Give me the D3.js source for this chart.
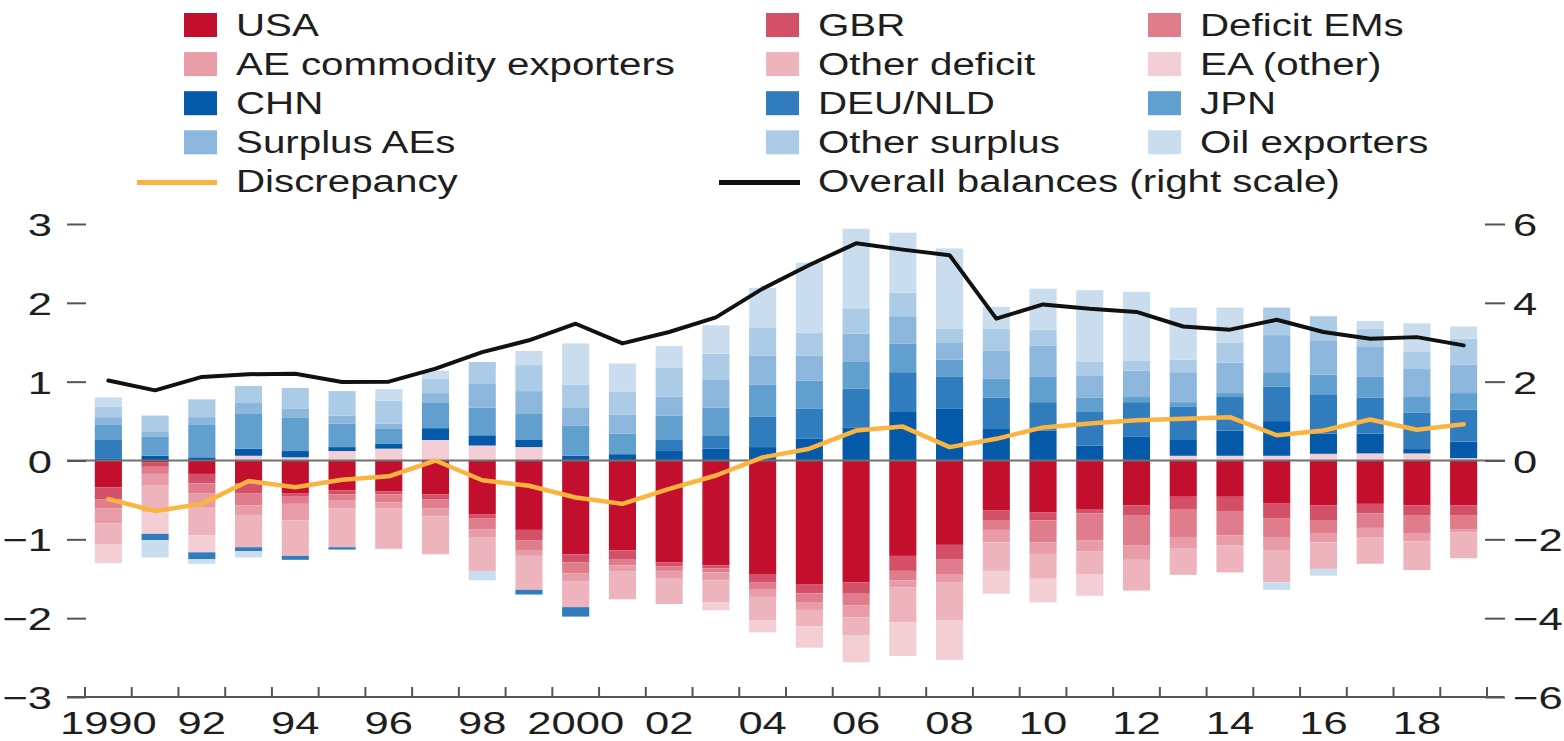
<!DOCTYPE html>
<html>
<head>
<meta charset="utf-8">
<script src="https://cdn.jsdelivr.net/npm/d3@7"></script>
<style>
  html, body { margin: 0; padding: 0; background: #fff; }
  svg { display: block; }
  text { font-family: "Liberation Sans", Arial, Helvetica, sans-serif; fill: #1e1e1e; }
</style>
</head>
<body>
<svg id="chart" width="1564" height="741"></svg>
<script>
// ---------- DATA ----------
const years = d3.range(1990, 2020);
const xTickLabels = ["1990","92","94","96","98","2000","02","04","06","08","10","12","14","16","18"];
const xTickYears = [1990,1992,1994,1996,1998,2000,2002,2004,2006,2008,2010,2012,2014,2016,2018];
const leftTicks = [-3,-2,-1,0,1,2,3];
const rightTicks = [-6,-4,-2,0,2,4,6];

const seriesNames = ["USA","GBR","Deficit EMs","AE commodity exporters","Other deficit","EA (other)",
                     "CHN","DEU/NLD","JPN","Surplus AEs","Other surplus","Oil exporters"];
const seriesColors = ["#c30f2e","#d44f68","#df7d8d","#e79ca8","#edb4be","#f3ced5",
                      "#045aa8","#307cbd","#619fcf","#8cb6db","#abcbe6","#c9ddee"];

const USA = [-0.34,-0.02,-0.17,-0.29,-0.42,-0.38,-0.39,-0.43,-0.68,-0.88,-1.19,-1.14,-1.29,-1.33,-1.44,-1.575,-1.545,-1.21,-1.07,-0.63,-0.655,-0.615,-0.57,-0.46,-0.46,-0.54,-0.57,-0.55,-0.57,-0.57];
const GBR = [-0.15,-0.06,-0.12,-0.13,-0.03,-0.05,-0.04,-0.06,-0.05,-0.13,-0.10,-0.11,-0.05,-0.04,-0.11,-0.11,-0.145,-0.19,-0.18,-0.125,-0.105,-0.055,-0.13,-0.155,-0.18,-0.19,-0.185,-0.12,-0.13,-0.13];
const deficitEMs = [-0.12,-0.09,-0.13,-0.15,-0.10,-0.08,-0.10,-0.12,-0.14,-0.125,-0.14,-0.08,-0.06,-0.05,-0.08,-0.11,-0.15,-0.12,-0.19,-0.125,-0.28,-0.34,-0.38,-0.355,-0.31,-0.25,-0.165,-0.185,-0.22,-0.17];
const aeCommodity = [-0.19,-0.15,-0.17,-0.13,-0.21,-0.10,-0.08,-0.10,-0.10,-0.075,-0.10,-0.08,-0.10,-0.10,-0.10,-0.10,-0.15,-0.09,-0.11,-0.16,-0.145,-0.14,-0.18,-0.14,-0.13,-0.155,-0.12,-0.125,-0.105,-0.04];
const otherDeficit = [-0.26,-0.34,-0.36,-0.40,-0.45,-0.49,-0.51,-0.48,-0.43,-0.43,-0.33,-0.35,-0.32,-0.28,-0.30,-0.21,-0.23,-0.44,-0.48,-0.36,-0.315,-0.29,-0.39,-0.34,-0.34,-0.41,-0.335,-0.33,-0.365,-0.33];
const eaOther = [-0.24,-0.27,-0.215,0.06,0.04,0.12,0.15,0.26,0.19,0.17,0,0,0,-0.10,-0.15,-0.27,-0.34,-0.43,-0.50,-0.29,-0.30,-0.275,0,0.06,0.06,0.06,0.085,0.09,0.09,0.03];
const CHN = [0.02,0.06,0.04,0.09,0.08,0.05,0.06,0.15,0.13,0.09,0.06,0.08,0.13,0.15,0.17,0.275,0.42,0.615,0.655,0.40,0.38,0.19,0.30,0.20,0.32,0.44,0.255,0.25,0.055,0.21];
const deuNld = [0.24,-0.08,-0.085,-0.05,-0.05,-0.03,0,0,0,-0.06,-0.12,0,0.13,0.17,0.39,0.38,0.49,0.505,0.405,0.395,0.36,0.425,0.44,0.42,0.425,0.44,0.50,0.46,0.465,0.405];
const JPN = [0.19,0.24,0.41,0.44,0.42,0.30,0.19,0.32,0.35,0.33,0.38,0.26,0.31,0.35,0.405,0.36,0.34,0.36,0.22,0.245,0.32,0.185,0.065,0.06,0.05,0.18,0.25,0.26,0.195,0.21];
const surplusAEs = [0.10,0.07,0.10,0.14,0.12,0.10,0.07,0.125,0.31,0.29,0.235,0.24,0.24,0.36,0.365,0.315,0.36,0.35,0.22,0.35,0.40,0.28,0.335,0.38,0.385,0.47,0.435,0.38,0.355,0.36];
const otherSurplus = [0.13,0.20,0.225,0.215,0.26,0.31,0.29,0.18,0.27,0.33,0.285,0.29,0.365,0.325,0.36,0.29,0.32,0.30,0.17,0.28,0.20,0.17,0.13,0.16,0.25,0.35,0.305,0.23,0.225,0.33];
const oilExporters = [0.12,-0.22,-0.06,-0.08,0,0,0.145,0.105,-0.12,0.18,0.525,0.36,0.275,0.36,0.50,0.89,1.01,0.76,1.02,0.28,0.52,0.91,0.87,0.66,0.45,-0.095,-0.085,0.10,0.355,0.155];

const discrepancy = [-0.49,-0.64,-0.55,-0.26,-0.34,-0.245,-0.20,0.0,-0.25,-0.32,-0.47,-0.55,-0.36,-0.19,0.04,0.15,0.38,0.43,0.17,0.275,0.42,0.47,0.51,0.53,0.55,0.32,0.38,0.52,0.39,0.46];
const overallBalances = [2.03,1.78,2.12,2.19,2.20,1.99,2.0,2.33,2.75,3.05,3.47,2.97,3.26,3.63,4.36,4.96,5.51,5.35,5.21,3.60,3.96,3.85,3.77,3.40,3.32,3.57,3.26,3.09,3.13,2.92];

const seriesValues = [USA,GBR,deficitEMs,aeCommodity,otherDeficit,eaOther,CHN,deuNld,JPN,surplusAEs,otherSurplus,oilExporters];

// ---------- BUILD ----------
const svg = d3.select("#chart");
const rows = years.map((yr, i) => {
  const r = {year: yr};
  seriesNames.forEach((n, k) => r[n] = seriesValues[k][i]);
  return r;
});

const x = d3.scaleBand().domain(years).range([85, 1487]).paddingInner(0.42).paddingOuter(0.21);
const yL = d3.scaleLinear().domain([-3, 3]).range([697, 224]);
const yR = d3.scaleLinear().domain([-6, 6]).range([697, 224]);
const color = d3.scaleOrdinal().domain(seriesNames).range(seriesColors);

const stack = d3.stack().keys(seriesNames).order(d3.stackOrderNone).offset(d3.stackOffsetDiverging);
const stacked = stack(rows);

function stretch(sel, s) {
  sel.each(function () {
    const w = this.getComputedTextLength();
    d3.select(this).attr("textLength", w * s).attr("lengthAdjust", "spacingAndGlyphs");
  });
}

// bars
svg.append("g").selectAll("g").data(stacked).join("g")
  .attr("fill", d => color(d.key))
  .selectAll("rect").data(d => d).join("rect")
  .attr("x", d => x(d.data.year))
  .attr("width", x.bandwidth())
  .attr("y", d => yL(Math.max(d[0], d[1])))
  .attr("height", d => Math.abs(yL(d[0]) - yL(d[1])));

// zero line
svg.append("line")
  .attr("x1", 67).attr("x2", 1505)
  .attr("y1", yL(0)).attr("y2", yL(0))
  .attr("stroke", "#707070").attr("stroke-width", 2);

// bottom axis line + boundary ticks
svg.append("line")
  .attr("x1", 67).attr("x2", 1504)
  .attr("y1", yL(-3)).attr("y2", yL(-3))
  .attr("stroke", "#555").attr("stroke-width", 2);
const half = x.step() * x.paddingInner() / 2;
const boundaries = years.map(yr => x(yr) - half).concat([x(years[years.length - 1]) + x.bandwidth() + half]);
svg.append("g").selectAll("line").data(boundaries).join("line")
  .attr("x1", d => d).attr("x2", d => d)
  .attr("y1", yL(-3)).attr("y2", yL(-3) - 10)
  .attr("stroke", "#555").attr("stroke-width", 2);

const xl = svg.append("g").selectAll("text").data(xTickYears).join("text")
  .attr("x", d => x(d) + x.bandwidth() / 2)
  .attr("y", 734)
  .attr("text-anchor", "middle")
  .attr("font-size", 32)
  .text((d, i) => xTickLabels[i]);
stretch(xl, 1.36);

const fmt = v => (v < 0 ? "\u2212" + Math.abs(v) : String(v));

// left axis
const gL = svg.append("g").attr("transform", "translate(86,0)")
  .call(d3.axisLeft(yL).tickValues(leftTicks).tickSize(19).tickPadding(15).tickFormat(fmt));
gL.select(".domain").remove();
gL.selectAll(".tick line").attr("stroke", "#555").attr("stroke-width", 2);
gL.selectAll(".tick text").attr("font-size", 32).attr("font-family", null).attr("fill", "#1e1e1e").attr("dy", "0.36em");
stretch(gL.selectAll(".tick text"), 1.36);

// right axis
const gR = svg.append("g").attr("transform", "translate(1485,0)")
  .call(d3.axisRight(yR).tickValues(rightTicks).tickSize(20).tickPadding(8).tickFormat(fmt));
gR.select(".domain").remove();
gR.selectAll(".tick line").attr("stroke", "#555").attr("stroke-width", 2);
gR.selectAll(".tick text").attr("font-size", 32).attr("font-family", null).attr("fill", "#1e1e1e").attr("dy", "0.36em");
stretch(gR.selectAll(".tick text"), 1.36);

// lines
const cx = yr => x(yr) + x.bandwidth() / 2;
svg.append("path")
  .datum(discrepancy)
  .attr("fill", "none").attr("stroke", "#fbb440").attr("stroke-width", 4.5)
  .attr("stroke-linejoin", "round").attr("stroke-linecap", "round")
  .attr("d", d3.line().x((d, i) => cx(years[i])).y(d => yL(d)));
svg.append("path")
  .datum(overallBalances)
  .attr("fill", "none").attr("stroke", "#111").attr("stroke-width", 4)
  .attr("stroke-linejoin", "round").attr("stroke-linecap", "round")
  .attr("d", d3.line().x((d, i) => cx(years[i])).y(d => yR(d)));

// legend
const colSwatchX = [184, 766, 1148];
const colTextX = [236, 818, 1200];
const baseY = 36, rowH = 39.1;
const leg = svg.append("g");
seriesNames.forEach((n, k) => {
  const r = Math.floor(k / 3), c = k % 3;
  const by = baseY + r * rowH;
  leg.append("rect").attr("x", colSwatchX[c]).attr("y", by - 23).attr("width", 33).attr("height", 24).attr("fill", color(n));
  leg.append("text").attr("x", colTextX[c]).attr("y", by).attr("font-size", 31).text(n);
});
const by4 = baseY + 4 * rowH;
leg.append("line").attr("x1", 137).attr("x2", 217).attr("y1", by4 - 10).attr("y2", by4 - 10)
  .attr("stroke", "#fbb440").attr("stroke-width", 5);
leg.append("text").attr("x", colTextX[0]).attr("y", by4).attr("font-size", 31).text("Discrepancy");
leg.append("line").attr("x1", 719).attr("x2", 800).attr("y1", by4 - 10).attr("y2", by4 - 10)
  .attr("stroke", "#111").attr("stroke-width", 5);
leg.append("text").attr("x", colTextX[1]).attr("y", by4).attr("font-size", 31).text("Overall balances (right scale)");
stretch(leg.selectAll("text"), 1.3);
</script>
</body>
</html>
